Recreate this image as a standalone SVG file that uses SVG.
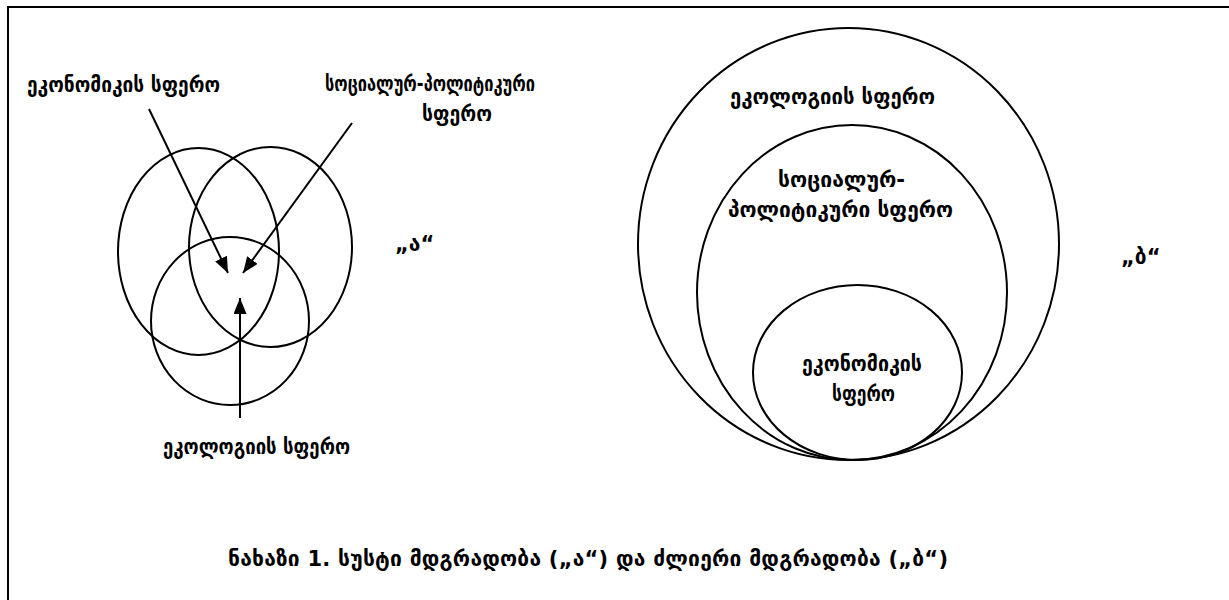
<svg xmlns="http://www.w3.org/2000/svg" width="1229" height="600" viewBox="0 0 1229 600">
<defs>
<style>
.t{font-family:"DejaVu Sans","Noto Sans",sans-serif;font-weight:bold;font-size:21px;fill:#000}
.c{fill:none;stroke:#000;stroke-width:2}
.a{fill:none;stroke:#000;stroke-width:2}
</style>
<marker id="ah" markerUnits="userSpaceOnUse" markerWidth="18" markerHeight="14" refX="16" refY="6.5" orient="auto">
<path d="M0,0 L16,6.5 L0,13 z" fill="#000"/>
</marker>
</defs>
<rect width="1229" height="600" fill="#fff"/>
<path d="M8,640 V7 H1240" fill="none" stroke="#000" stroke-width="2"/>
<g id="diagram-a">
<g id="econ-a"><ellipse class="c" cx="198.5" cy="251.5" rx="80.5" ry="103.5"/></g>
<g id="social-a"><ellipse class="c" cx="270.5" cy="247" rx="81.5" ry="100"/></g>
<g id="eco-a"><ellipse class="c" cx="230" cy="321" rx="79" ry="84"/></g>
<g id="connectors-a">
<line class="a" x1="149" y1="109" x2="228" y2="273" marker-end="url(#ah)"/>
<line class="a" x1="352" y1="123" x2="243" y2="273" marker-end="url(#ah)"/>
<line class="a" x1="240" y1="418" x2="240" y2="298" marker-end="url(#ah)"/>
</g>
<g id="labels-a">
<text class="t" x="27" y="92" textLength="193" lengthAdjust="spacingAndGlyphs">ეკონომიკის სფერო</text>
<text class="t" x="325" y="91" textLength="210" lengthAdjust="spacingAndGlyphs">სოციალურ-პოლიტიკური</text>
<text class="t" x="422" y="121" textLength="70" lengthAdjust="spacingAndGlyphs">სფერო</text>
<text class="t" x="163" y="454" textLength="187" lengthAdjust="spacingAndGlyphs">ეკოლოგიის სფერო</text>
<text class="t" x="395" y="251">„ა“</text>
</g>
</g>
<g id="diagram-b">
<g id="eco-b"><ellipse class="c" cx="848.5" cy="244" rx="210.5" ry="216"/>
<text class="t" x="730" y="104" textLength="205" lengthAdjust="spacingAndGlyphs">ეკოლოგიის სფერო</text></g>
<g id="social-b"><ellipse class="c" cx="852" cy="292.5" rx="155" ry="167.5"/>
<text class="t" x="778" y="187" textLength="127" lengthAdjust="spacingAndGlyphs">სოციალურ-</text>
<text class="t" x="728" y="217" textLength="225" lengthAdjust="spacingAndGlyphs">პოლიტიკური სფერო</text></g>
<g id="econ-b"><ellipse class="c" cx="857.5" cy="372.5" rx="104.5" ry="87.5"/>
<text class="t" x="802" y="371" textLength="120" lengthAdjust="spacingAndGlyphs">ეკონომიკის</text>
<text class="t" x="832" y="401" textLength="63" lengthAdjust="spacingAndGlyphs">სფერო</text></g>
<text class="t" x="1121" y="264">„ბ“</text>
</g>
<text class="t" x="228" y="566" textLength="720" lengthAdjust="spacing">ნახაზი 1. სუსტი მდგრადობა („ა“) და ძლიერი მდგრადობა („ბ“)</text>
</svg>
